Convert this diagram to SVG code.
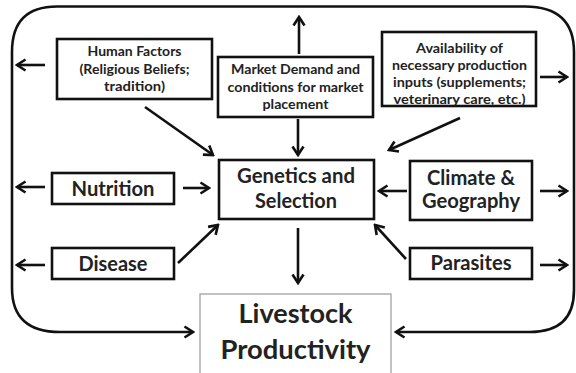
<svg xmlns="http://www.w3.org/2000/svg" width="576" height="373" viewBox="0 0 576 373">
<style>
.box{fill:#fff;stroke:#111;stroke-width:2.6}
.lbox{fill:#fff;stroke:#999;stroke-width:1.2}
.t{font-family:Lato,"Open Sans","Liberation Sans",sans-serif;font-weight:bold;fill:#222;text-anchor:middle}
.s{font-size:14px}
.m{font-size:20px}
.l{font-size:27px}
.c{fill:none;stroke:#111;stroke-width:2.6}
</style>
<defs>
<marker id="ah" viewBox="0 0 12 14" refX="10" refY="7" markerWidth="12" markerHeight="14" markerUnits="userSpaceOnUse" orient="auto-start-reverse">
<path d="M1.5,1.5 L10,7 L1.5,12.5" fill="none" stroke="#111" stroke-width="2.6"/>
</marker>
</defs>
<rect width="576" height="373" fill="#fff"/>
<g id="connectors">
<path class="c" d="M193,332 L60,332 Q12,332 12,288 L12,52 Q12,6.5 57,6.5 L525,6.5 Q574,6.5 574,52 L574,290 Q574,332 530,332 L396,332" marker-start="url(#ah)" marker-end="url(#ah)"/>
<line class="c" x1="45" y1="65" x2="17" y2="65" marker-end="url(#ah)"/>
<line class="c" x1="145" y1="107" x2="213" y2="155" marker-end="url(#ah)"/>
<line class="c" x1="299" y1="54" x2="299" y2="17" marker-end="url(#ah)"/>
<line class="c" x1="298" y1="119" x2="298" y2="155" marker-end="url(#ah)"/>
<line class="c" x1="460" y1="118" x2="389" y2="150" marker-end="url(#ah)"/>
<line class="c" x1="540" y1="77" x2="567" y2="77" marker-end="url(#ah)"/>
<line class="c" x1="45" y1="187" x2="17" y2="187" marker-end="url(#ah)"/>
<line class="c" x1="183" y1="188" x2="209" y2="188" marker-end="url(#ah)"/>
<line class="c" x1="45" y1="265" x2="17" y2="265" marker-end="url(#ah)"/>
<line class="c" x1="178" y1="263" x2="218" y2="225" marker-end="url(#ah)"/>
<line class="c" x1="407" y1="191" x2="379" y2="191" marker-end="url(#ah)"/>
<line class="c" x1="540" y1="191" x2="567" y2="191" marker-end="url(#ah)"/>
<line class="c" x1="406" y1="259" x2="375" y2="225" marker-end="url(#ah)"/>
<line class="c" x1="540" y1="265" x2="567" y2="265" marker-end="url(#ah)"/>
<line class="c" x1="298" y1="228" x2="298" y2="283" marker-end="url(#ah)"/>
</g>
<g id="human">
<rect class="box" x="57" y="39" width="155" height="60"/>
<text class="t s" x="134.5" y="56" textLength="94" lengthAdjust="spacingAndGlyphs">Human Factors</text>
<text class="t s" x="134.5" y="73.5" textLength="110" lengthAdjust="spacingAndGlyphs">(Religious Beliefs;</text>
<text class="t s" x="134.5" y="91" textLength="61" lengthAdjust="spacingAndGlyphs">tradition)</text>
</g>
<g id="market">
<rect class="box" x="218" y="57" width="155" height="60"/>
<text class="t s" x="295.5" y="74" textLength="129" lengthAdjust="spacingAndGlyphs">Market Demand and</text>
<text class="t s" x="295.5" y="92" textLength="136" lengthAdjust="spacingAndGlyphs">conditions for market</text>
<text class="t s" x="295.5" y="109" textLength="66" lengthAdjust="spacingAndGlyphs">placement</text>
</g>
<g id="availability">
<rect class="box" x="382" y="32" width="154" height="74"/>
<text class="t s" x="459.5" y="53" textLength="87" lengthAdjust="spacingAndGlyphs">Availability of</text>
<text class="t s" x="459.5" y="70" textLength="135" lengthAdjust="spacingAndGlyphs">necessary production</text>
<text class="t s" x="459.5" y="87" textLength="133" lengthAdjust="spacingAndGlyphs">inputs (supplements;</text>
<text class="t s" x="459.5" y="104" textLength="132" lengthAdjust="spacingAndGlyphs">veterinary care, etc.)</text>
</g>
<g id="genetics">
<rect class="box" x="219" y="160" width="155" height="59"/>
<text class="t m" x="296" y="183" textLength="118" lengthAdjust="spacingAndGlyphs">Genetics and</text>
<text class="t m" x="296" y="208" textLength="82" lengthAdjust="spacingAndGlyphs">Selection</text>
</g>
<g id="nutrition">
<rect class="box" x="52" y="173" width="122" height="31"/>
<text class="t m" x="113" y="196" textLength="83" lengthAdjust="spacingAndGlyphs">Nutrition</text>
</g>
<g id="disease">
<rect class="box" x="52" y="248" width="122" height="31"/>
<text class="t m" x="113" y="271" textLength="69" lengthAdjust="spacingAndGlyphs">Disease</text>
</g>
<g id="climate">
<rect class="box" x="410" y="161" width="122" height="59"/>
<text class="t m" x="471" y="185" textLength="88" lengthAdjust="spacingAndGlyphs">Climate &amp;</text>
<text class="t m" x="471" y="208" textLength="98" lengthAdjust="spacingAndGlyphs">Geography</text>
</g>
<g id="parasites">
<rect class="box" x="410" y="248" width="122" height="31"/>
<text class="t m" x="471" y="270" textLength="81" lengthAdjust="spacingAndGlyphs">Parasites</text>
</g>
<g id="livestock">
<rect class="lbox" x="200" y="294" width="191" height="90"/>
<text class="t l" x="295.5" y="323" textLength="114" lengthAdjust="spacingAndGlyphs">Livestock</text>
<text class="t l" x="295.5" y="359" textLength="150" lengthAdjust="spacingAndGlyphs">Productivity</text>
</g>
</svg>
